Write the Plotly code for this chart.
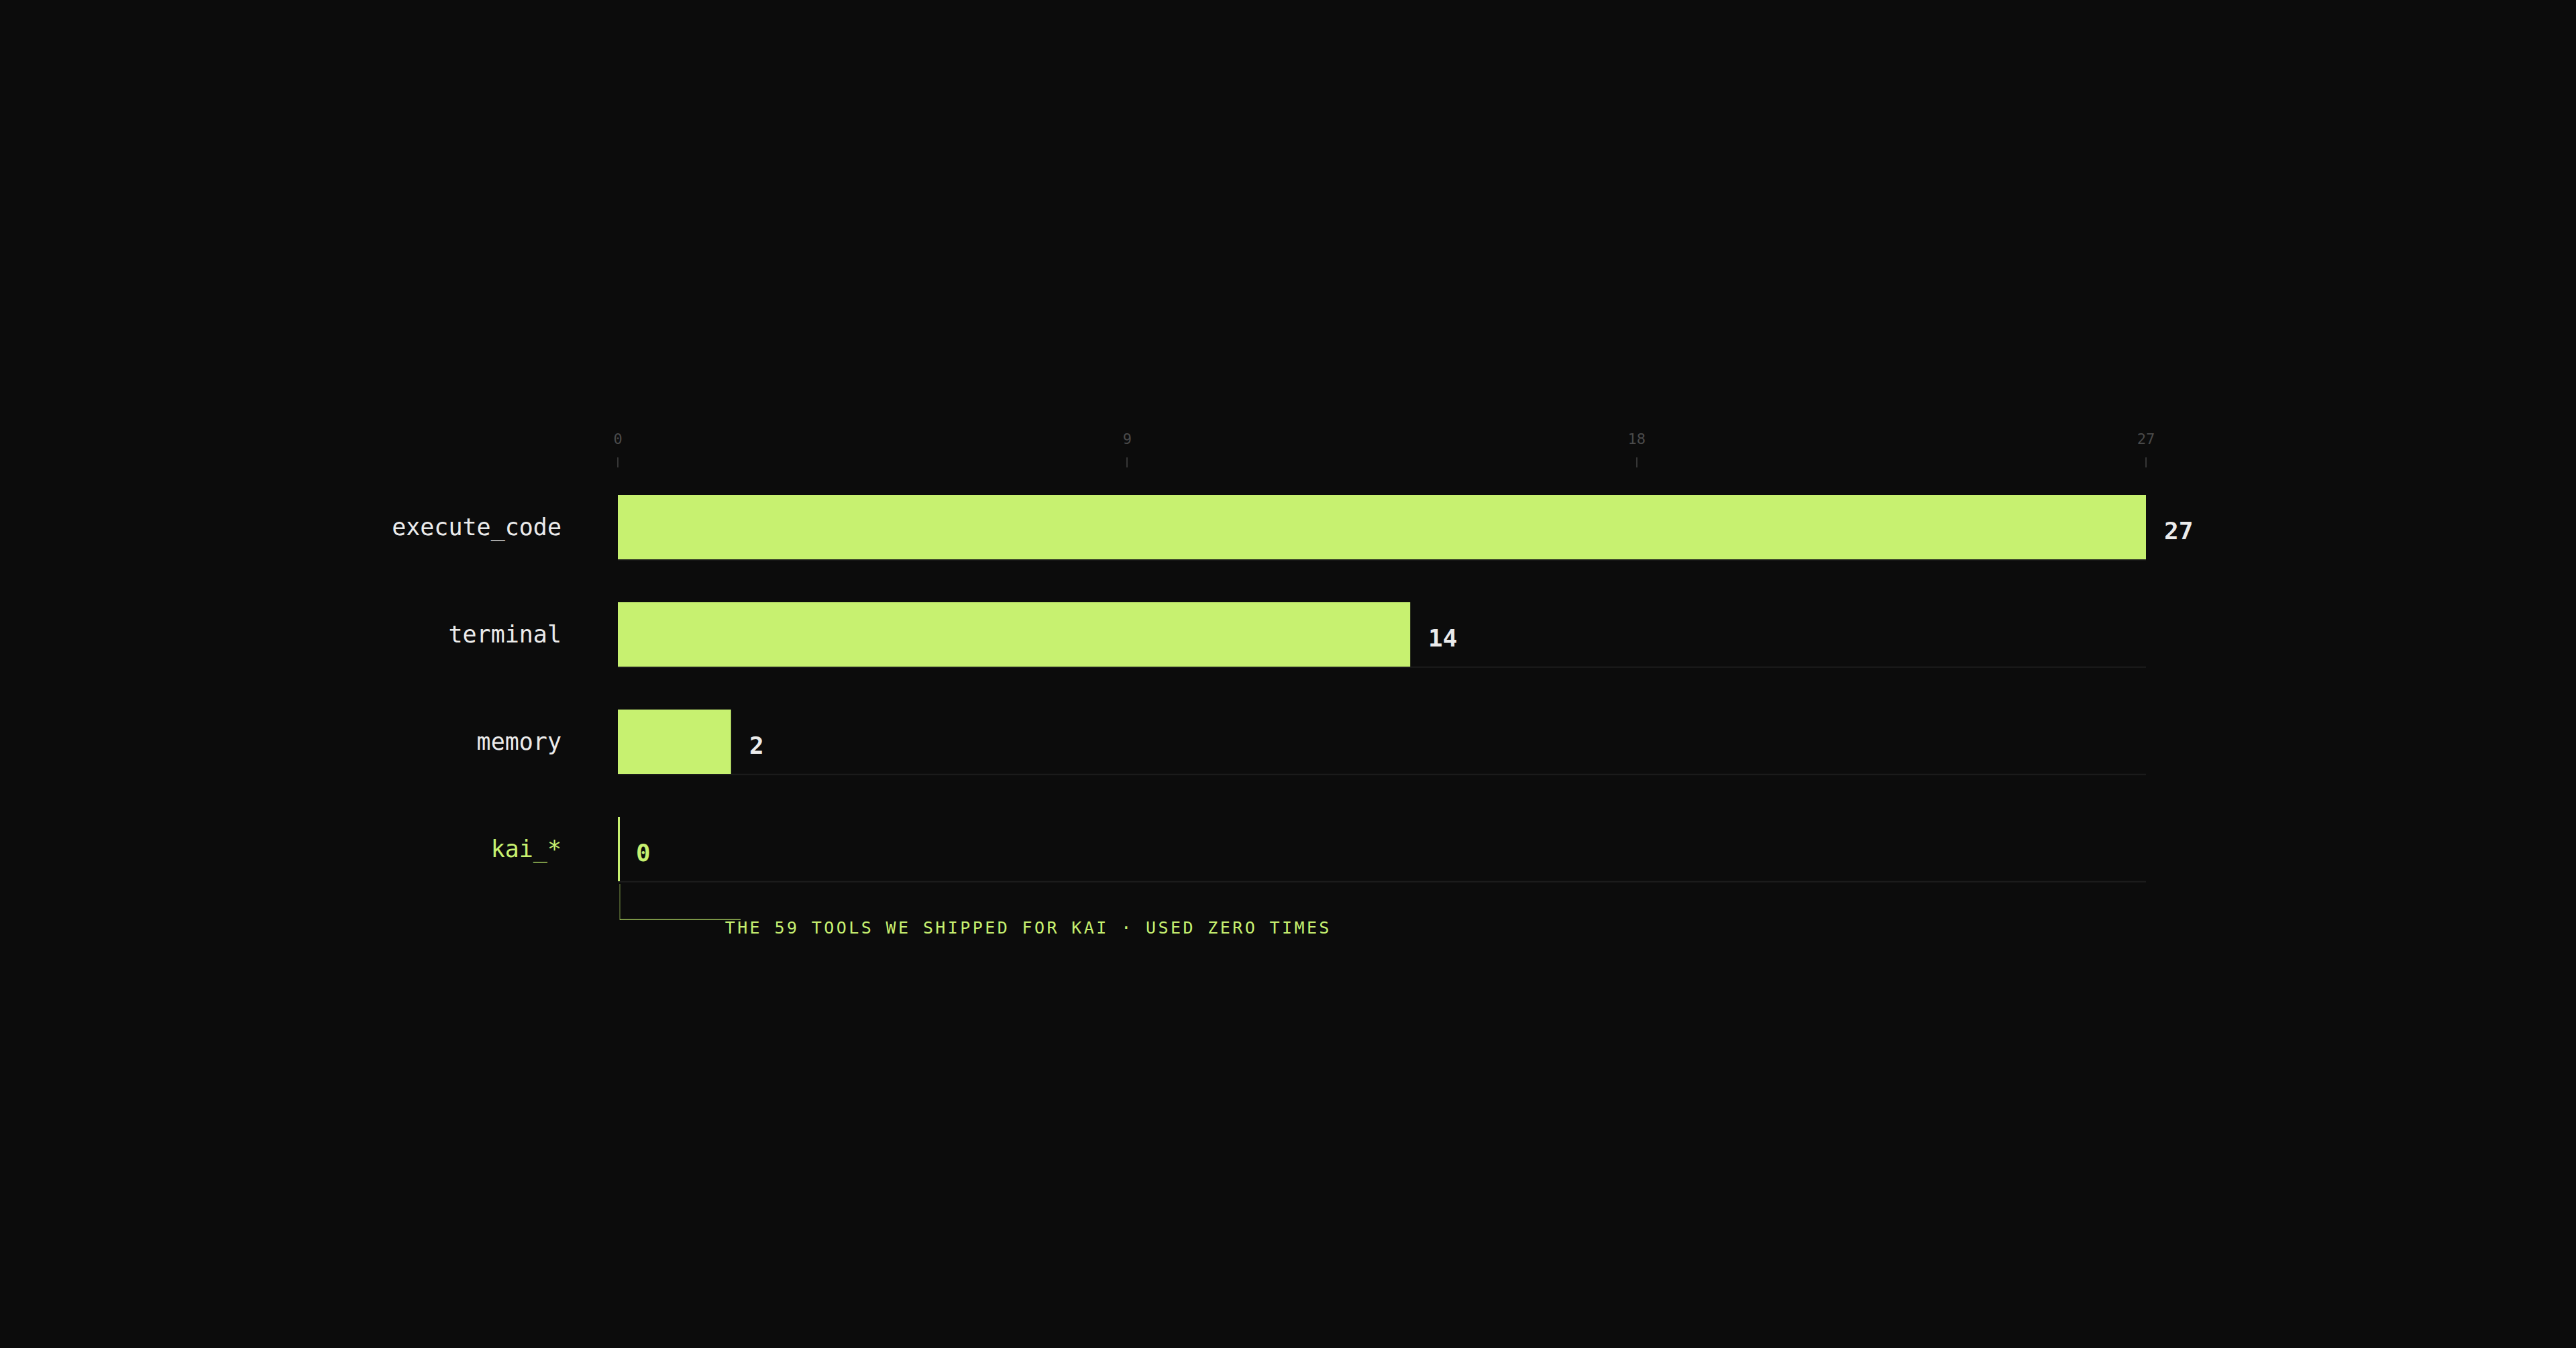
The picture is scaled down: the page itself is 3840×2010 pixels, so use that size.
import plotly.graph_objects as go

# data
tools = ["execute_code", "terminal", "memory", "kai_*"]
calls = [27, 14, 2, 0]
x_ticks = [0, 9, 18, 27]
note = "THE 59 TOOLS WE SHIPPED FOR KAI · USED ZERO TIMES"
highlight = "kai_*"

BG = "#0c0c0c"
LIME = "#c7f170"
TEXT = "#ebebeb"
MONO = "DejaVu Sans Mono"

W, H = 3840, 2010
x0_px, x1_px = 921, 3199

tick_text = [
    f'<span style="color:{LIME}">{t}</span>' if t == highlight else t
    for t in tools
]

fig = go.Figure()
fig.add_bar(
    x=calls, y=tools, orientation="h", width=0.6,
    marker=dict(color=LIME, line=dict(width=0)),
    hoverinfo="skip",
)

# value labels right of each bar
for t, v in zip(tools, calls):
    fig.add_annotation(
        x=v, y=t, xref="x", yref="y", text=str(v), showarrow=False,
        xanchor="left", yanchor="middle", xshift=25, yshift=-5,
        font=dict(family=MONO, size=36, weight="bold",
                  color=LIME if t == highlight else TEXT),
    )

shapes = []
# row separators
for i, t in enumerate(tools):
    shapes.append(dict(
        type="line", xref="x", yref="y", x0=0, x1=x_ticks[-1],
        y0=i + 0.305, y1=i + 0.305, layer="below",
        line=dict(color="#1d1d1d", width=2),
    ))
    # zero-value rows get a thin marker at the axis
    if calls[i] == 0:
        shapes.append(dict(
            type="line", xref="x", yref="y", xsizemode="pixel", xanchor=0,
            x0=1.5, x1=1.5, y0=i - 0.3, y1=i + 0.3,
            line=dict(color=LIME, width=3),
        ))

# bracket under the highlighted row
hi = tools.index(highlight)
bracket = "rgba(199,241,112,0.6)"
shapes.append(dict(
    type="line", xref="x", yref="y", xsizemode="pixel", ysizemode="pixel",
    xanchor=0, yanchor=hi, x0=3, x1=3, y0=-52, y1=-106,
    line=dict(color=bracket, width=1),
))
shapes.append(dict(
    type="line", xref="x", yref="y", xsizemode="pixel", ysizemode="pixel",
    xanchor=0, yanchor=hi, x0=3, x1=183, y0=-105, y1=-105,
    line=dict(color=bracket, width=2),
))
fig.add_annotation(
    x=0, y=hi, xref="x", yref="y", text=note, showarrow=False,
    xanchor="left", yanchor="middle", xshift=241, yshift=-117,
    font=dict(family=MONO, size=25, color=LIME),
)

fig.update_layout(
    width=W, height=H,
    paper_bgcolor=BG, plot_bgcolor=BG,
    margin=dict(l=0, r=0, t=698, b=610),
    showlegend=False,
    shapes=shapes,
    bargap=0.4,
)
fig.update_xaxes(
    domain=[x0_px / W, x1_px / W], range=[0, x_ticks[-1]],
    side="top", tickvals=x_ticks, ticks="outside", ticklen=15, tickwidth=2,
    tickcolor="#363636", ticklabelstandoff=11,
    tickfont=dict(family=MONO, size=22, color="#4a4a4a"),
    showgrid=False, zeroline=False, showline=False, automargin=False,
    fixedrange=True,
)
fig.update_yaxes(
    type="category", categoryorder="array", categoryarray=tools,
    range=[len(tools) - 0.1625, -0.55], autorange=False,
    tickvals=tools, ticktext=tick_text, ticks="", ticklabelstandoff=83,
    tickfont=dict(family=MONO, size=35, color=TEXT),
    showgrid=False, zeroline=False, showline=False, automargin=False,
    fixedrange=True,
)

page_js = (
    "document.body.style.margin='0';"
    "document.querySelectorAll('.annotation-text').forEach(function(t){"
    "if(t.textContent.indexOf('TOOLS')>=0){t.style.letterSpacing='3.4px';}});"
)
fig.write_html("out.html", post_script=page_js, config={"displayModeBar": False})
